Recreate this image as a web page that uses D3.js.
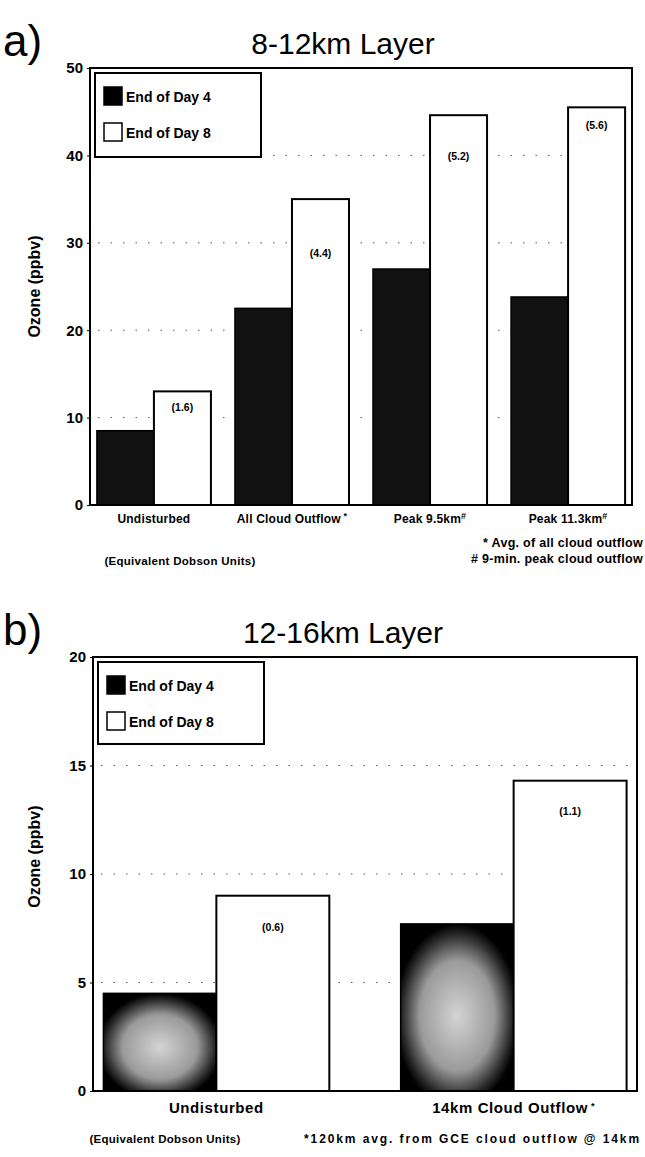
<!DOCTYPE html>
<html>
<head>
<meta charset="utf-8">
<script src="https://d3js.org/d3.v7.min.js"></script>
<style>
  body { margin: 0; background: #fff; }
  svg text { font-family: "Liberation Sans", Arial, sans-serif; fill: #000; }
</style>
</head>
<body>
<svg id="viz" width="645" height="1157"></svg>
<script>
// panel a) 8-12km layer
var catsA = ["Undisturbed", "All Cloud Outflow", "Peak 9.5km", "Peak 11.3km"];
var catMarksA = ["", " *", "#", "#"];
var day4A = [8.5, 22.5, 27, 23.8];
var day8A = [13, 35, 44.6, 45.5];
var dobsonA = ["(1.6)", "(4.4)", "(5.2)", "(5.6)"];
var ticksA = [0, 10, 20, 30, 40, 50];
var gridA = [10, 20, 30, 40];

// panel b) 12-16km layer
var catsB = ["Undisturbed", "14km Cloud Outflow"];
var catMarksB = ["", " *"];
var day4B = [4.5, 7.7];
var day8B = [9, 14.3];
var dobsonB = ["(0.6)", "(1.1)"];
var ticksB = [0, 5, 10, 15, 20];
var gridB = [5, 10, 15];

var legendLabels = ["End of Day 4", "End of Day 8"];

var svg = d3.select("#viz");

// scanned stipple look of the dark bars in b)
var defs = svg.append("defs");
var grad = defs.append("radialGradient").attr("id", "speckle")
  .attr("cx", "50%").attr("cy", "55%").attr("r", "55%");
grad.append("stop").attr("offset", "0%").attr("stop-color", "#d4d4d4");
grad.append("stop").attr("offset", "60%").attr("stop-color", "#9a9a9a");
grad.append("stop").attr("offset", "88%").attr("stop-color", "#2a2a2a");
grad.append("stop").attr("offset", "100%").attr("stop-color", "#000");

function drawPanel(opts){
  var g = svg.append("g");
  var x0 = d3.scaleBand().domain(opts.cats).range([opts.left, opts.right])
             .paddingInner(opts.padIn).paddingOuter(opts.padOut);
  var x1 = d3.scaleBand().domain(["d4", "d8"]).range([0, x0.bandwidth()]);
  var y = d3.scaleLinear().domain([0, opts.max]).range([opts.bottom, opts.top]);

  // letter + title
  g.append("text").attr("x", 3).attr("y", opts.top - 12)
    .style("font-size", "44px").text(opts.letter);
  g.append("text").attr("x", 343).attr("y", opts.top - 14)
    .attr("text-anchor", "middle").style("font-size", "30px").text(opts.title);

  // sparse dotted grid
  g.selectAll(".grid").data(opts.grid).enter().append("line")
    .attr("x1", opts.left + 8).attr("x2", opts.right - 8)
    .attr("y1", function(d){ return y(d); }).attr("y2", function(d){ return y(d); })
    .style("stroke", "#555").style("stroke-width", "1px")
    .style("stroke-dasharray", "1.5,11");

  // bars
  var groups = g.selectAll(".grp").data(opts.cats).enter().append("g")
    .attr("transform", function(d){ return "translate(" + x0(d) + ",0)"; });
  groups.append("rect")
    .attr("x", x1("d4")).attr("width", x1.bandwidth())
    .attr("y", function(d, i){ return y(opts.day4[i]); })
    .attr("height", function(d, i){ return y(0) - y(opts.day4[i]); })
    .style("fill", opts.darkFill).style("stroke", "#000").style("stroke-width", "1.5px");
  groups.append("rect")
    .attr("x", x1("d8")).attr("width", x1.bandwidth())
    .attr("y", function(d, i){ return y(opts.day8[i]); })
    .attr("height", function(d, i){ return y(0) - y(opts.day8[i]); })
    .style("fill", "#fff").style("stroke", "#000").style("stroke-width", "2px");
  groups.append("text")
    .attr("x", x1("d8") + x1.bandwidth() / 2)
    .attr("y", function(d, i){ return y(opts.day8[i]) + opts.labelDrop[i]; })
    .attr("text-anchor", "middle")
    .style("font-size", "10.5px").style("font-weight", "bold")
    .text(function(d, i){ return opts.dobson[i]; });

  // frame
  g.append("rect").attr("x", opts.left).attr("y", opts.top)
    .attr("width", opts.right - opts.left).attr("height", opts.bottom - opts.top)
    .style("fill", "none").style("stroke", "#000").style("stroke-width", "2px");

  // y axis
  var ax = g.append("g").attr("transform", "translate(" + opts.left + ",0)")
    .call(d3.axisLeft(y).tickValues(opts.ticks).tickSize(3).tickPadding(4));
  ax.select(".domain").remove();
  ax.selectAll("text").style("font-size", "15px").style("font-weight", "bold")
    .style("font-family", "'Liberation Sans', Arial, sans-serif");
  g.append("text")
    .attr("transform", "translate(" + 40 + "," + (opts.top + (opts.bottom - opts.top) * opts.ytitlePos) + ") rotate(-90)")
    .attr("text-anchor", "middle").style("font-size", "16px").style("font-weight", "bold")
    .text("Ozone (ppbv)");

  // x labels
  g.selectAll(".xl").data(opts.cats).enter().append("text")
    .attr("x", function(d){ return x0(d) + x0.bandwidth() / 2; })
    .attr("y", opts.bottom + opts.xlabDrop)
    .attr("text-anchor", "middle")
    .style("font-size", opts.xlabSize).style("font-weight", "bold")
    .style("letter-spacing", opts.xlabSpace)
    .text(function(d){ return d; })
    .append("tspan").attr("dy", "-0.4em").style("font-size", "9px")
    .text(function(d, i){ return opts.marks[i]; });

  // legend
  var lg = g.append("g").attr("transform", "translate(" + (opts.left + 5) + "," + (opts.top + 5) + ")");
  lg.append("rect").attr("width", 166).attr("height", opts.legH)
    .style("fill", "#fff").style("stroke", "#000").style("stroke-width", "2px");
  lg.selectAll(".sw").data(legendLabels).enter().append("rect")
    .attr("x", 9).attr("y", function(d, i){ return 14 + i * 36; })
    .attr("width", 18).attr("height", 18)
    .style("fill", function(d, i){ return i === 0 ? "#000" : "#fff"; })
    .style("stroke", "#000").style("stroke-width", "1.5px");
  lg.selectAll(".lt").data(legendLabels).enter().append("text")
    .attr("x", 31).attr("y", function(d, i){ return 29 + i * 36; })
    .style("font-size", "14px").style("font-weight", "bold")
    .text(function(d){ return d; });

  return g;
}

var ga = drawPanel({
  letter: "a)", title: "8-12km Layer",
  cats: catsA, marks: catMarksA, day4: day4A, day8: day8A, dobson: dobsonA,
  ticks: ticksA, grid: gridA, max: 50,
  left: 90, right: 632, top: 68, bottom: 505,
  padIn: 0.174, padOut: 0.05, labelDrop: [20, 58, 45, 22], legH: 84,
  darkFill: "#111", xlabDrop: 18, xlabSize: "12px", xlabSpace: "0.2px", ytitlePos: 0.5
});
ga.append("text").attr("x", 180).attr("y", 565).attr("text-anchor", "middle")
  .style("font-size", "11.5px").style("font-weight", "bold").style("letter-spacing", "0.3px")
  .text("(Equivalent Dobson Units)");
ga.append("text").attr("x", 643).attr("y", 547).attr("text-anchor", "end")
  .style("font-size", "12.5px").style("font-weight", "bold").style("letter-spacing", "0.3px")
  .text("* Avg. of all cloud outflow");
ga.append("text").attr("x", 643).attr("y", 563).attr("text-anchor", "end")
  .style("font-size", "12.5px").style("font-weight", "bold").style("letter-spacing", "0.3px")
  .text("# 9-min. peak cloud outflow");

var gb = drawPanel({
  letter: "b)", title: "12-16km Layer",
  cats: catsB, marks: catMarksB, day4: day4B, day8: day8B, dobson: dobsonB,
  ticks: ticksB, grid: gridB, max: 20,
  left: 93, right: 637, top: 657, bottom: 1091,
  padIn: 0.24, padOut: 0.035, labelDrop: [35, 34], legH: 82,
  darkFill: "url(#speckle)", xlabDrop: 22, xlabSize: "15px", xlabSpace: "0.6px", ytitlePos: 0.46
});
gb.append("text").attr("x", 165).attr("y", 1143).attr("text-anchor", "middle")
  .style("font-size", "11.5px").style("font-weight", "bold").style("letter-spacing", "0.3px")
  .text("(Equivalent Dobson Units)");
gb.append("text").attr("x", 641).attr("y", 1143).attr("text-anchor", "end")
  .style("font-size", "12px").style("font-weight", "bold").style("letter-spacing", "1.9px")
  .text("*120km avg. from GCE cloud outflow @ 14km");
</script>
</body>
</html>
